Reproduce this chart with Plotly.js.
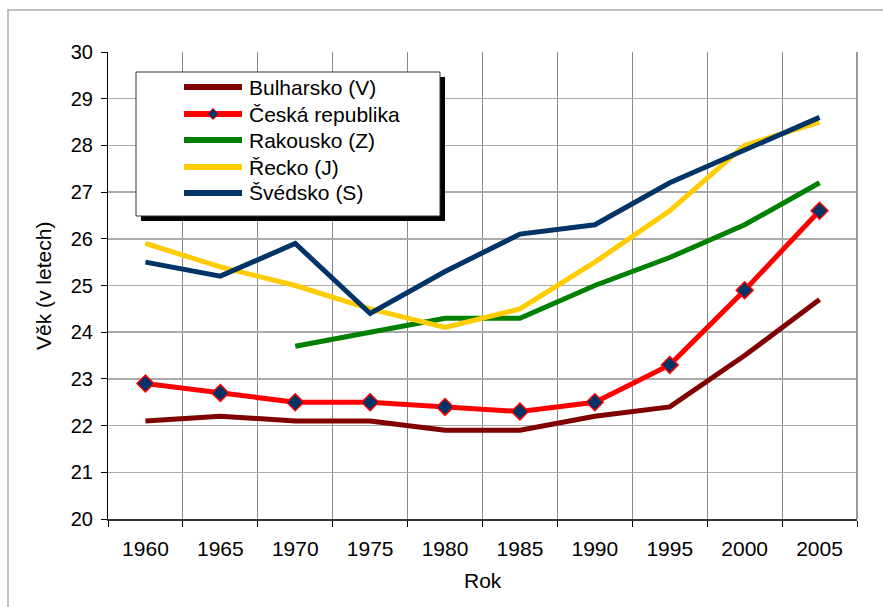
<!DOCTYPE html>
<html>
<head>
<meta charset="utf-8">
<script src="https://cdn.plot.ly/plotly-3.0.1.min.js"></script>
<style>html,body{margin:0;padding:0;background:#fff;}#chart{width:883px;height:607px;}</style>
</head>
<body>
<div id="chart"></div>
<script>
const years = ["1960","1965","1970","1975","1980","1985","1990","1995","2000","2005"];
const seriesNames = ["Bulharsko (V)","Česká republika","Rakousko (Z)","Řecko (J)","Švédsko (S)"];
const bulharsko = [22.1,22.2,22.1,22.1,21.9,21.9,22.2,22.4,23.5,24.7];
const ceskaRepublika = [22.9,22.7,22.5,22.5,22.4,22.3,22.5,23.3,24.9,26.6];
const rakousko = [null,null,23.7,24.0,24.3,24.3,25.0,25.6,26.3,27.2];
const recko = [25.9,25.4,25.0,24.5,24.1,24.5,25.5,26.6,28.0,28.5];
const svedsko = [25.5,25.2,25.9,24.4,25.3,26.1,26.3,27.2,27.9,28.6];
const colors = ["#800000","#ff0000","#008000","#ffcc00","#003366"];

const W = 883, H = 607, L = 108, R = 26, T = 52, B = 88;
const PW = W - L - R, PH = H - T - B;
const px = x => (x - L) / PW;
const py = y => (H - B - y) / PH;

const values = [bulharsko, ceskaRepublika, rakousko, recko, svedsko];
const traces = values.map((v, i) => {
  const t = {
    type: "scatter", mode: i === 1 ? "lines+markers" : "lines",
    x: years, y: v, name: seriesNames[i], showlegend: false,
    line: {color: colors[i], width: 5},
    hoverinfo: "skip"
  };
  if (i === 1) t.marker = {symbol: "diamond", size: 13, color: "#003366", line: {color: "#ff0000", width: 1.5}};
  return t;
});

const shapes = [
  {type: "rect", xref: "paper", yref: "paper", x0: px(8), x1: px(910), y0: py(10), y1: py(640),
   line: {color: "#c0c0c0", width: 2}, layer: "below"},
  {type: "line", xref: "paper", yref: "paper", x0: 1, x1: 1, y0: 0, y1: 1, line: {color: "#999", width: 2}},
  // legend shadow and box
  {type: "rect", xref: "paper", yref: "paper", x0: px(141), x1: px(445), y0: py(77), y1: py(221),
   line: {width: 0}, fillcolor: "#000", layer: "above"},
  {type: "rect", xref: "paper", yref: "paper", x0: px(136), x1: px(440), y0: py(72), y1: py(216),
   line: {color: "#333", width: 1}, fillcolor: "#fff", layer: "above"}
];
const annotations = [];
const rows = [87, 114, 140, 167, 193];
seriesNames.forEach((n, i) => {
  shapes.push({type: "line", xref: "paper", yref: "paper", x0: px(184), x1: px(242), y0: py(rows[i]), y1: py(rows[i]),
    line: {color: colors[i], width: 6}, layer: "above"});
  annotations.push({xref: "paper", yref: "paper", x: px(247), y: py(rows[i]), xanchor: "left", yanchor: "middle",
    text: n, showarrow: false, font: {family: "Liberation Sans, Arial, sans-serif", size: 21, color: "#000"}});
});
// legend diamond for Česká republika
shapes.push({type: "path", xref: "paper", yref: "paper", xsizemode: "pixel", ysizemode: "pixel",
  xanchor: px(213), yanchor: py(rows[1]), path: "M0,5.5L5.5,0L0,-5.5L-5.5,0Z",
  fillcolor: "#003366", line: {color: "#ff0000", width: 1}, layer: "above"});

annotations.push({xref: "paper", yref: "paper", x: px(483), y: py(580), xanchor: "center", yanchor: "middle",
  text: "Rok", showarrow: false, font: {family: "Liberation Sans, Arial, sans-serif", size: 21, color: "#000"}});
annotations.push({xref: "paper", yref: "paper", x: px(43), y: py(286), xanchor: "center", yanchor: "middle",
  text: "Věk (v letech)", textangle: -90, showarrow: false, font: {family: "Liberation Sans, Arial, sans-serif", size: 21, color: "#000"}});

const layout = {
  width: W, height: H,
  margin: {l: L, r: R, t: T, b: B, pad: 0},
  paper_bgcolor: "#fff", plot_bgcolor: "#fff",
  font: {family: "Liberation Sans, Arial, sans-serif", size: 21, color: "#000"},
  showlegend: false,
  xaxis: {
    type: "category", categoryorder: "array", categoryarray: years, range: [-0.5, 9.5],
    tickson: "boundaries", ticks: "outside", ticklen: 6, tickcolor: "#000", tickwidth: 1,
    showgrid: true, gridcolor: "#888", gridwidth: 1,
    showline: true, linecolor: "#333", linewidth: 2,
    tickfont: {size: 21}, ticklabelstandoff: 10, fixedrange: true
  },
  yaxis: {
    range: [20, 30], dtick: 1, tick0: 20, ticks: "outside", ticklen: 6, tickcolor: "#000", tickwidth: 1,
    showgrid: true, gridcolor: "#aaa", gridwidth: 1.5, zeroline: false,
    showline: true, linecolor: "#000", linewidth: 1,
    tickfont: {size: 20}, ticklabelstandoff: 4, fixedrange: true
  },
  shapes: shapes,
  annotations: annotations
};
Plotly.newPlot("chart", traces, layout, {staticPlot: true, displayModeBar: false});
</script>
</body>
</html>
